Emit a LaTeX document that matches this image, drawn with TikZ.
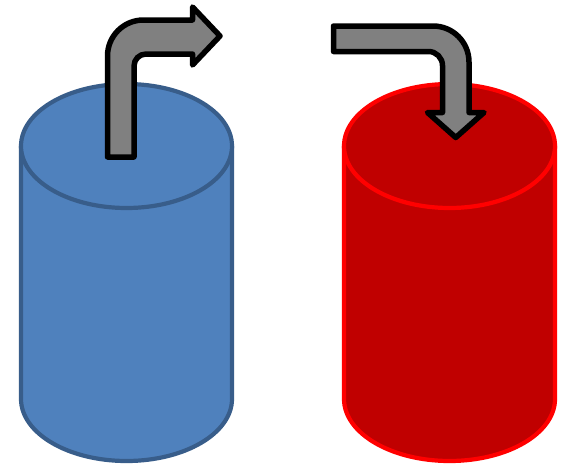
\documentclass[tikz,border=0pt]{standalone}
\usepackage{tikz}
\definecolor{cylblue}{HTML}{4F81BD}
\definecolor{cylblueline}{HTML}{385D8A}
\definecolor{cylred}{HTML}{C00000}
\definecolor{cylredline}{HTML}{FF0000}
\definecolor{arrowgray}{HTML}{808080}
\tikzset{
  bluecyl/.style={fill=cylblue, draw=cylblueline, line width=4.2pt, line join=round},
  redcyl/.style={fill=cylred, draw=cylredline, line width=4.2pt, line join=round},
  bentarrow/.style={fill=arrowgray, draw=black, line width=5.5pt, line join=round}
}
\begin{document}
\begin{tikzpicture}[x=1pt,y=-1pt]
\useasboundingbox (0,0) rectangle (565,466);
% blue cylinder
\path[bluecyl] (21,146) -- (21,399) arc[start angle=180, end angle=0, x radius=105.5, y radius=62] -- (232,146) -- cycle;
\path[bluecyl] (126.5,146) ellipse[x radius=105.5, y radius=62];
% red cylinder
\path[redcyl] (344,146) -- (344,399) arc[start angle=180, end angle=0, x radius=105.5, y radius=62] -- (555,146) -- cycle;
\path[redcyl] (449.5,146) ellipse[x radius=105.5, y radius=62];
% blue bent arrow (up, then right)
\path[bentarrow] (107.5,157) -- (107.5,56)
  .. controls (107.5,36.1) and (123.6,20) .. (143.5,20)
  -- (192.5,20) -- (192.5,7) -- (220,36) -- (192.5,65) -- (192.5,54)
  -- (146,54) .. controls (139.4,54) and (134,59.4) .. (134,66)
  -- (134,157) -- cycle;
% red bent arrow (right, then down)
\path[bentarrow] (333.5,26) -- (433,26)
  .. controls (452.9,26) and (469,42.1) .. (469,62)
  -- (469,112.5) -- (484,112.5) -- (455.75,137.5) -- (427.5,112.5) -- (442.5,112.5)
  -- (442.5,65.5) .. controls (442.5,57.8) and (436.2,51.5) .. (428.5,51.5)
  -- (333.5,51.5) -- cycle;
\end{tikzpicture}
\end{document}
